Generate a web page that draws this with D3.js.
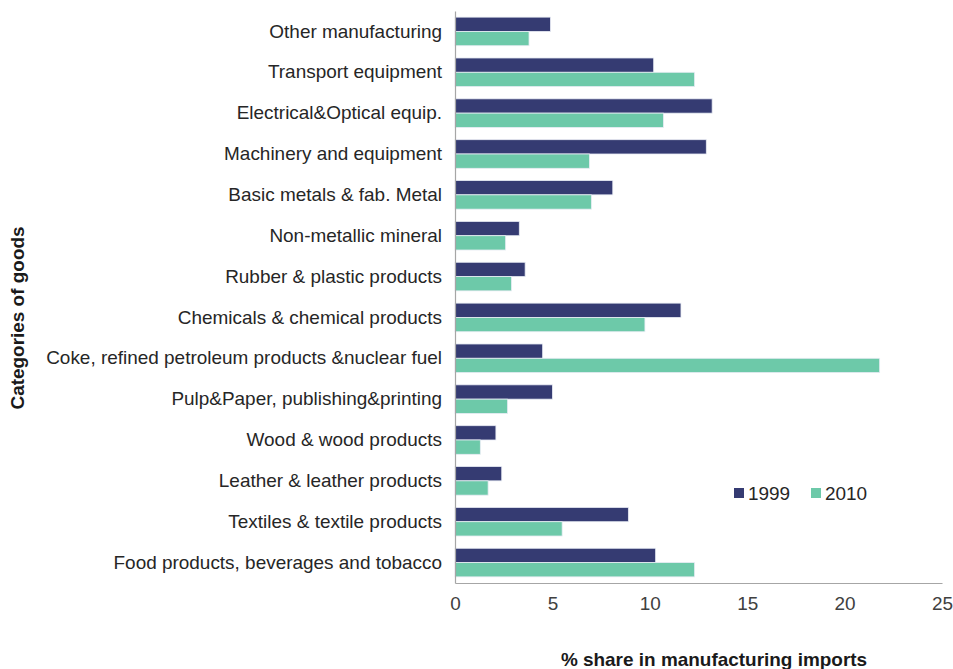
<!DOCTYPE html>
<html>
<head>
<meta charset="utf-8">
<script src="https://cdn.jsdelivr.net/npm/d3@7"></script>
<style>
  html, body { margin: 0; padding: 0; background: #fff; }
  svg { display: block; font-family: "Liberation Sans", Arial, sans-serif; }
</style>
</head>
<body>
<svg id="chart" width="953" height="669"></svg>
<script>
// Categories listed top to bottom
const categories = [
  "Other manufacturing",
  "Transport equipment",
  "Electrical&Optical equip.",
  "Machinery and equipment",
  "Basic metals & fab. Metal",
  "Non-metallic mineral",
  "Rubber & plastic products",
  "Chemicals & chemical products",
  "Coke, refined petroleum products &nuclear fuel",
  "Pulp&Paper, publishing&printing",
  "Wood & wood products",
  "Leather & leather products",
  "Textiles & textile products",
  "Food products, beverages and tobacco"
];
const seriesNames = ["1999", "2010"];
const values1999 = [4.9, 10.2, 13.2, 12.9, 8.1, 3.3, 3.6, 11.6, 4.5, 5.0, 2.1, 2.4, 8.9, 10.3];
const values2010 = [3.8, 12.3, 10.7, 6.9, 7.0, 2.6, 2.9, 9.75, 21.8, 2.7, 1.3, 1.7, 5.5, 12.3];
const xTicks = [0, 5, 10, 15, 20, 25];
const colors = ["#353b72", "#6dc9a9"];

const FS = 18.95;
const svg = d3.select("#chart");
const margin = { left: 455, right: 11, top: 11, bottom: 86 };
const W = 953, H = 669;

const x = d3.scaleLinear().domain([0, 25]).range([margin.left, W - margin.right]);
const y = d3.scaleBand().domain(categories).range([margin.top, H - margin.bottom])
  .paddingInner(0.3).paddingOuter(0.15);
const ySub = d3.scaleBand().domain(seriesNames).range([0, y.bandwidth()]);

const rows = categories.map((c, i) => ({ cat: c, vals: [values1999[i], values2010[i]] }));

// Bars
const groups = svg.append("g").selectAll("g").data(rows).join("g")
  .attr("transform", d => `translate(0,${y(d.cat)})`);
groups.selectAll("rect").data(d => d.vals.map((v, k) => ({ v, k })))
  .join("rect")
  .attr("x", x(0))
  .attr("y", d => ySub(seriesNames[d.k]))
  .attr("width", d => x(d.v) - x(0))
  .attr("height", ySub.bandwidth())
  .attr("fill", d => colors[d.k])
  .attr("stroke", "#e8ecf4")
  .attr("stroke-width", 0.8);

// X axis
const xAxis = svg.append("g")
  .attr("transform", `translate(0,${H - margin.bottom})`)
  .call(d3.axisBottom(x).tickValues(xTicks).tickSize(0).tickPadding(14));
xAxis.select(".domain").attr("stroke", "#a6a6a6").attr("stroke-width", 1.2);
xAxis.selectAll("text").attr("font-size", FS).attr("fill", "#404040")
  .attr("font-family", "Liberation Sans, Arial, sans-serif");

// Y axis
const yAxis = svg.append("g")
  .attr("transform", `translate(${margin.left},0)`)
  .call(d3.axisLeft(y).tickSize(0).tickPadding(13));
yAxis.select(".domain").attr("stroke", "#a6a6a6").attr("stroke-width", 1.2);
yAxis.selectAll("text").attr("font-size", FS).attr("fill", "#262626")
  .attr("font-family", "Liberation Sans, Arial, sans-serif");

// Axis titles
svg.append("text")
  .attr("x", 714).attr("y", 666)
  .attr("text-anchor", "middle")
  .attr("font-size", FS).attr("font-weight", "bold").attr("fill", "#1a1a1a")
  .text("% share in manufacturing imports");

svg.append("text")
  .attr("transform", "translate(24,318) rotate(-90)")
  .attr("text-anchor", "middle")
  .attr("font-size", FS).attr("font-weight", "bold").attr("fill", "#1a1a1a")
  .text("Categories of goods");

// Legend
const legend = svg.append("g").selectAll("g").data(seriesNames).join("g")
  .attr("transform", (d, i) => `translate(${734 + i * 77},493)`);
legend.append("rect")
  .attr("x", 0).attr("y", -5).attr("width", 10).attr("height", 10)
  .attr("fill", (d, i) => colors[i]);
legend.append("text")
  .attr("x", 14).attr("y", 6.5)
  .attr("font-size", FS).attr("fill", "#262626")
  .text(d => d);
</script>
</body>
</html>
